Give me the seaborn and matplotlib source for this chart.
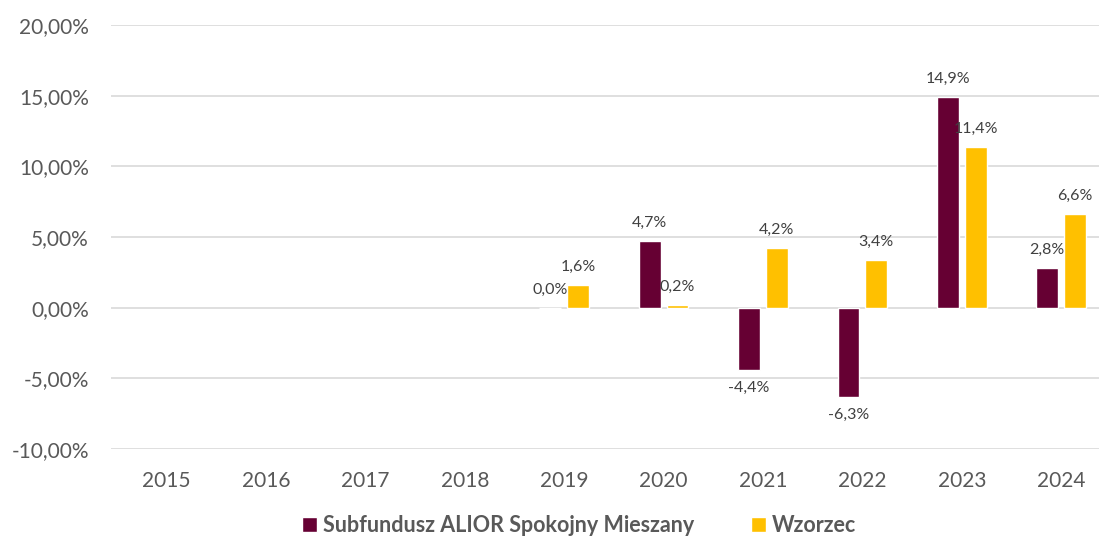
import pandas as pd
import numpy as np
from matplotlib import pyplot as plt
import seaborn as sns

years = ["2015", "2016", "2017", "2018", "2019", "2020", "2021", "2022", "2023", "2024"]
alior = [np.nan, np.nan, np.nan, np.nan, 0.0, 4.7, -4.4, -6.3, 14.9, 2.8]
wzorzec = [np.nan, np.nan, np.nan, np.nan, 1.6, 0.2, 4.2, 3.4, 11.4, 6.6]
series_names = ["Subfundusz ALIOR Spokojny Mieszany", "Wzorzec"]
colors = ["#660033", "#FFC000"]

df = pd.DataFrame({
    "rok": years * 2,
    "seria": [series_names[0]] * len(years) + [series_names[1]] * len(years),
    "wartosc": alior + wzorzec,
})

sns.set_theme(style="white")
plt.rcParams['font.family'] = ['Lato', 'DejaVu Sans']

fig = plt.figure(figsize=(10.99, 5.41), dpi=100)
ax = fig.add_axes([111 / 1099, 92 / 541, 1 - 111 / 1099, 424 / 541])

sns.barplot(data=df, x="rok", y="wartosc", hue="seria", order=years,
            hue_order=series_names, palette=colors, width=0.56, gap=0.22,
            saturation=1, ax=ax, errorbar=None)

# data labels
for cont in ax.containers:
    labels = []
    for p in cont:
        h = p.get_height()
        if np.isnan(h):
            labels.append("")
        else:
            labels.append(f"{h:.1f}%".replace(".", ","))
    ax.bar_label(cont, labels=labels, padding=8, fontsize=11.5, color="#404040")

ax.set_ylim(-10, 20)
ax.set_xlim(-0.56, 9.38)
ticks = np.arange(-10, 21, 5)
ax.set_yticks(ticks)
ax.set_yticklabels([f"{t:.2f}%".replace(".", ",") for t in ticks])
ax.yaxis.grid(True, color="#d9d9d9", linewidth=1.2)
ax.set_axisbelow(True)
for s in ax.spines.values():
    s.set_visible(False)
ax.tick_params(axis="y", labelsize=15, labelcolor="#595959", length=0, pad=16)
ax.tick_params(axis="x", labelsize=15, labelcolor="#595959", length=0, pad=16)
ax.set_xlabel("")
ax.set_ylabel("")

handles, labs = ax.get_legend_handles_labels()
ax.get_legend().remove()
leg = fig.legend(handles, labs, loc="center", bbox_to_anchor=(0.527, 0.028), ncol=2,
                 frameon=False, handlelength=0.7, handleheight=0.7, handletextpad=0.3,
                 columnspacing=2.6, borderpad=0.1, prop={"size": 15.5, "weight": "bold"})
for t in leg.get_texts():
    t.set_color("#595959")

fig.savefig("out.png", dpi=100)
